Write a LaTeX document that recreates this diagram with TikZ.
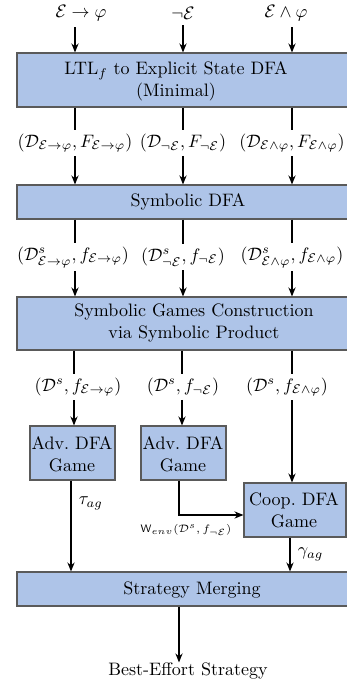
\documentclass[tikz,border=0pt]{standalone}
\usetikzlibrary{arrows.meta,fit}
\definecolor{boxblue}{HTML}{AEC4E8}
\definecolor{boxline}{HTML}{5A5A5A}
\begin{document}
\begin{tikzpicture}[x=0.555pt,y=-0.555pt,
  box/.style={draw=boxline, fill=boxblue, line width=0.6pt, inner sep=0pt},
  txt/.style={align=center, inner sep=0pt},
  lbl/.style={inner sep=0.3pt},
  arr/.style={-{Stealth[length=5pt,width=4pt]}, line width=0.65pt},
  ln/.style={line width=0.65pt},
  gapin/.style={shorten >=1.7pt},
  gapout/.style={shorten <=1.7pt}]
\useasboundingbox (0,0) rectangle (347,686);
% column coordinates
\coordinate (c1) at (75,0);
\coordinate (c2) at (183,0);
\coordinate (c3) at (292,0);
\coordinate (ca) at (74,0);
\coordinate (cb) at (182,0);
\coordinate (cd) at (71,0);
\coordinate (ce) at (179,0);
\coordinate (cf) at (290,0);
\coordinate (turn) at (179,515);
% boxes
\node[box, fit={(17,53) (365,107)}] (b1) {};
\node[txt] (b1t) at (176,81) {LTL$_f$ to Explicit State DFA\\(Minimal)};
\node[box, fit={(17,185) (365,219)}] (b2) {};
\node[txt] (b2t) at (188,202) {Symbolic DFA};
\node[box, fit={(17,297) (365,350)}] (b3) {};
\node[txt] (b3t) at (194,323) {Symbolic Games Construction\\via Symbolic Product};
\node[box, fit={(30,426) (115,480)}] (a1) {};
\node[txt] (a1t) at (72,454) {Adv.\ DFA\\Game};
\node[box, fit={(141,426) (226,480)}] (a2) {};
\node[txt] (a2t) at (183,454) {Adv.\ DFA\\Game};
\node[box, fit={(244,483) (346,537)}] (co) {};
\node[txt] (cot) at (294,510) {Coop.\ DFA\\Game};
\node[box, fit={(17,572) (365,606)}] (m) {};
\node[txt] (mt) at (192,590) {Strategy Merging};
\node[txt] (best) at (188,671) {Best-Effort Strategy};
% labels
\node[lbl] (t1) at (81,13) {$\mathcal{E}\rightarrow\varphi$};
\node[lbl] (t2) at (183,13) {$\neg\mathcal{E}$};
\node[lbl] (t3) at (286,13) {$\mathcal{E}\wedge\varphi$};
\node[lbl] (l1a) at (75,143) {$(\mathcal{D}_{\mathcal{E}\rightarrow\varphi}, F_{\mathcal{E}\rightarrow\varphi})$};
\node[lbl] (l1b) at (183,143) {$(\mathcal{D}_{\neg\mathcal{E}}, F_{\neg\mathcal{E}})$};
\node[lbl] (l1c) at (292,143) {$(\mathcal{D}_{\mathcal{E}\wedge\varphi}, F_{\mathcal{E}\wedge\varphi})$};
\node[lbl] (l2a) at (73,257) {$(\mathcal{D}^s_{\mathcal{E}\rightarrow\varphi}, f_{\mathcal{E}\rightarrow\varphi})$};
\node[lbl] (l2b) at (183,257) {$(\mathcal{D}^s_{\neg\mathcal{E}}, f_{\neg\mathcal{E}})$};
\node[lbl] (l2c) at (292,257) {$(\mathcal{D}^s_{\mathcal{E}\wedge\varphi}, f_{\mathcal{E}\wedge\varphi})$};
\node[lbl] (l3a) at (78,387) {$(\mathcal{D}^s, f_{\mathcal{E}\rightarrow\varphi})$};
\node[lbl] (l3b) at (183,387) {$(\mathcal{D}^s, f_{\neg\mathcal{E}})$};
\node[lbl] (l3c) at (287,387) {$(\mathcal{D}^s, f_{\mathcal{E}\wedge\varphi})$};
\node[lbl, font=\fontsize{6.3}{7.5}\selectfont] (w) at (186,530) {$\mathsf{W}_{env}(\mathcal{D}^s, f_{\neg\mathcal{E}})$};
% connectors top
\draw[arr, shorten <=3pt] (t1.south -| c1) -- (c1 |- b1.north);
\draw[arr, shorten <=3pt] (t2.south -| c2) -- (c2 |- b1.north);
\draw[arr, shorten <=3pt] (t3.south -| c3) -- (c3 |- b1.north);
\foreach \c/\l in {c1/l1a, c2/l1b, c3/l1c}{
  \draw[ln, gapin] (\c |- b1.south) -- (\c |- \l.north);
  \draw[arr, gapout] (\c |- \l.south) -- (\c |- b2.north);
}
\foreach \c/\l in {c1/l2a, c2/l2b, c3/l2c}{
  \draw[ln, gapin] (\c |- b2.south) -- (\c |- \l.north);
  \draw[arr, gapout] (\c |- \l.south) -- (\c |- b3.north);
}
\draw[ln, gapin] (ca |- b3.south) -- (ca |- l3a.north);
\draw[ln, gapin] (cb |- b3.south) -- (cb |- l3b.north);
\draw[ln, gapin] (c3 |- b3.south) -- (c3 |- l3c.north);
\draw[arr, gapout] (ca |- l3a.south) -- (ca |- a1.north);
\draw[arr, gapout] (cb |- l3b.south) -- (cb |- a2.north);
\draw[arr, gapout] (c3 |- l3c.south) -- (c3 |- co.north);
% bottom
\draw[arr] (cd |- a1.south) -- (cd |- m.north) node[pos=0.25, right, inner sep=4pt] {$\tau_{ag}$};
\draw[arr] (ce |- a2.south) -- (turn) -- (co.west |- turn);
\draw[arr] (cf |- co.south) -- (cf |- m.north) node[midway, right, inner sep=4pt] {$\gamma_{ag}$};
\draw[arr] (ce |- m.south) -- (ce |- best.north) ;
\end{tikzpicture}
\end{document}
